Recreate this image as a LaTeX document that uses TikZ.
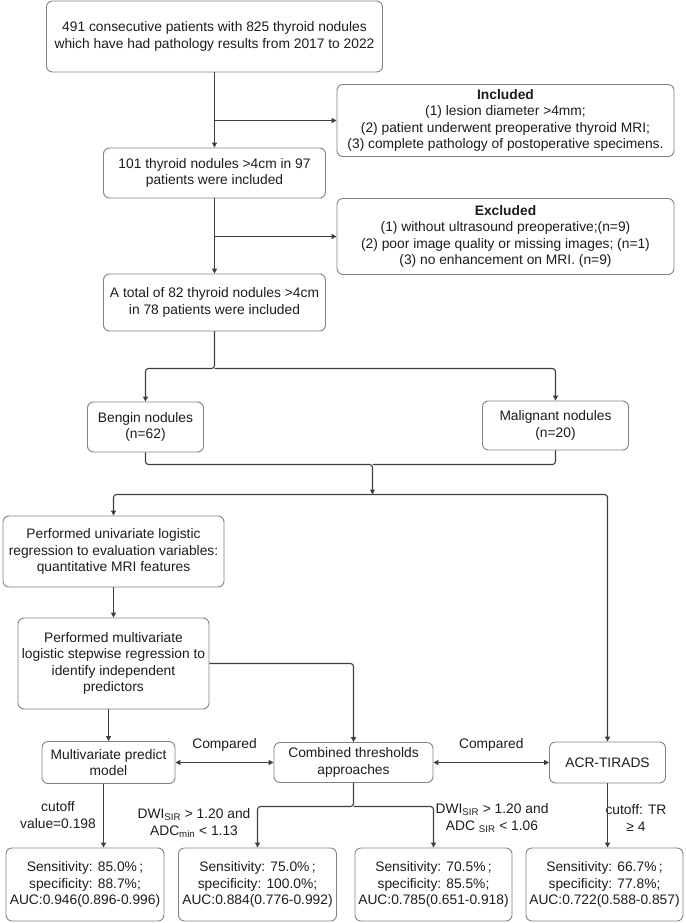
\documentclass[tikz,border=0pt]{standalone}
\usepackage{fontspec}
\setmainfont{Liberation Sans}
\usepackage{tikz}
\usetikzlibrary{arrows.meta}
\definecolor{boxgray}{RGB}{130,130,130}
\definecolor{linegray}{RGB}{62,62,62}
\definecolor{txt}{RGB}{28,28,28}
\tikzstyle{box}=[draw=boxgray, line width=0.9pt, rounded corners=6pt, align=center, inner sep=0pt, text=txt, font=\fontsize{13.8}{16.6}\selectfont]
\tikzstyle{lbl}=[align=center, inner sep=0pt, text=txt, font=\fontsize{13.8}{16.6}\selectfont]
\tikzstyle{ln}=[draw=linegray, line width=1.1pt, rounded corners=3pt]
\tikzstyle{arr}=[ln, -{Triangle[length=5pt,width=5pt]}]
\tikzstyle{arr2}=[ln, {Triangle[length=5pt,width=5pt]}-{Triangle[length=5pt,width=5pt]}]

\begin{document}
\begin{tikzpicture}[x=1pt,y=-1pt]
\useasboundingbox (0,0) rectangle (685,923);
\node[box, minimum width=336, minimum height=71] (pat) at (214.5,36.5) {491 consecutive patients with 825 thyroid nodules\\which have had pathology results from 2017 to 2022};
\node[box, minimum width=337, minimum height=72] (inc) at (505.5,120.5) {\textbf{Included}\\(1) lesion diameter >4mm;\\(2) patient underwent preoperative thyroid MRI;\\(3) complete pathology of postoperative specimens.};
\node[box, minimum width=222, minimum height=50] (n101) at (214.5,173) {101 thyroid nodules >4cm in 97\\patients were included};
\node[box, minimum width=337, minimum height=76] (exc) at (505.5,236.5) {\textbf{Excluded}\\(1) without ultrasound preoperative;(n=9)\\(2) poor image quality or missing images; (n=1)\\(3) no enhancement on MRI. (n=9)};
\node[box, minimum width=222, minimum height=57] (n82) at (214.5,302.5) {A total of 82 thyroid nodules >4cm\\in 78 patients were included};
\node[box, minimum width=116, minimum height=50] (ben) at (145.5,427) {Bengin nodules\\(n=62)};
\node[box, minimum width=146, minimum height=49] (mal) at (555.5,425.5) {Malignant nodules\\(n=20)};
\node[box, minimum width=221, minimum height=71] (uni) at (113.5,551.5) {Performed univariate logistic\\regression to evaluation variables:\\quantitative MRI features};
\node[box, minimum width=191, minimum height=91] (multi) at (113.5,663.5) {Performed multivariate\\logistic stepwise regression to\\identify independent\\predictors};
\node[box, minimum width=133, minimum height=42] (pred) at (108.5,762.5) {Multivariate predict\\model};
\node[box, minimum width=159, minimum height=40] (comb) at (353.5,762.5) {Combined thresholds\\approaches};
\node[box, minimum width=116, minimum height=41] (acr) at (607.5,762.5) {ACR-TIRADS};
\node[box, minimum width=158, minimum height=73] (r1) at (85,884.5) {Sensitivity: 85.0\%\,;\\specificity: 88.7\%;\\AUC:0.946(0.896-0.996)};
\node[box, minimum width=158, minimum height=73] (r2) at (257.5,884.5) {Sensitivity: 75.0\%\,;\\specificity: 100.0\%;\\AUC:0.884(0.776-0.992)};
\node[box, minimum width=157, minimum height=73] (r3) at (433.5,884.5) {Sensitivity: 70.5\%\,;\\specificity: 85.5\%;\\AUC:0.785(0.651-0.918)};
\node[box, minimum width=157, minimum height=73] (r4) at (604.5,884.5) {Sensitivity: 66.7\%\,;\\specificity: 77.8\%;\\AUC:0.722(0.588-0.857)};
\node[lbl] (cut1) at (58,815) {cutoff\\value=0.198};
\node[lbl] (thr1) at (194,823) {DWI\textsubscript{SIR} > 1.20 and\\ADC\textsubscript{min} < 1.13};
\node[lbl] (thr2) at (492,818) {DWI\textsubscript{SIR} > 1.20 and\\ADC \textsubscript{SIR} < 1.06};
\node[lbl] (cut2) at (636,818) {cutoff: TR\\≥ 4};
\coordinate (s1) at (214.5,368.5);
\coordinate (j1) at (372.5,464.5);
\coordinate (j2) at (372.5,494.5);
\coordinate (j3) at (353.5,806.5);
\draw[arr] (pat.south) -- (n101.north);
\draw[arr] (pat.south |- inc.west) -- (inc.west);
\draw[arr] (n101.south) -- (n82.north);
\draw[arr] (n101.south |- exc.west) -- (exc.west);
\draw[arr] (n82.south) -- (s1) -| (ben.north);
\draw[arr] (s1) -| (mal.north);
\draw[arr] (ben.south) |- (j1) -- (j2);
\draw[ln] (mal.south) |- (j1);
\draw[arr] (j2) -| (uni.north);
\draw[arr] (j2) -| (acr.north);
\draw[arr] (uni.south) -- (multi.north);
\draw[arr] (pred.north |- multi.south) -- (pred.north);
\draw[arr] (multi.east) -| (comb.north);
\draw[arr2] (pred.east) -- node[lbl, midway, above=11pt] {Compared} (comb.west);
\draw[arr2] (comb.east) -- node[lbl, midway, above=11pt] {Compared} (acr.west);
\draw[arr] ([xshift=-5pt]pred.south) -- ([xshift=-5pt]pred.south |- r1.north);
\draw[arr] (comb.south) -- (j3) -| (r2.north);
\draw[arr] (j3) -| (r3.north);
\draw[arr] (acr.south) -- (acr.south |- r4.north);
\end{tikzpicture}
\end{document}
